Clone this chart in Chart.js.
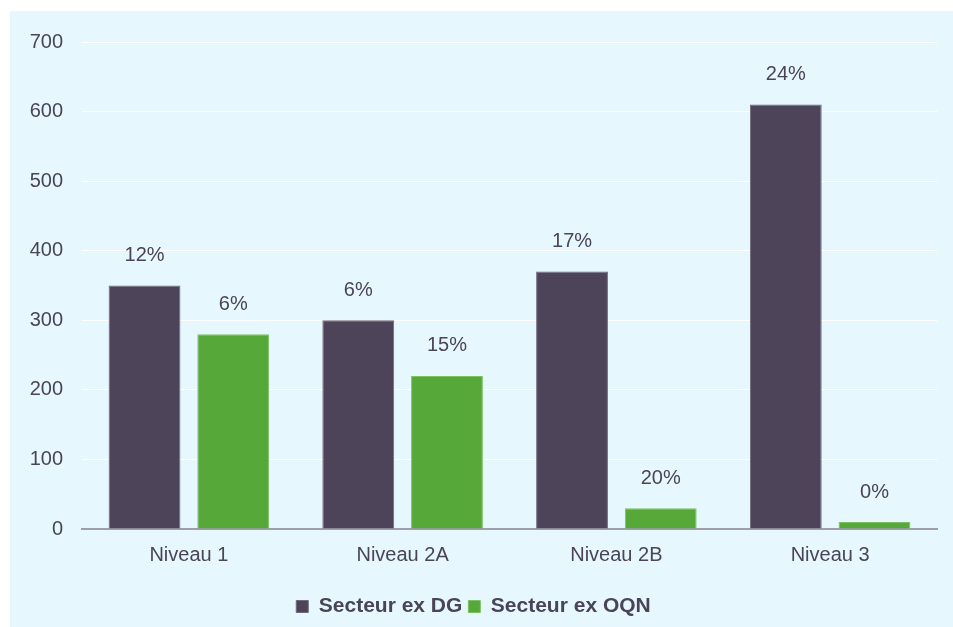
<!DOCTYPE html>
<html>
<head>
<meta charset="utf-8">
<script src="https://cdn.jsdelivr.net/npm/chart.js@4/dist/chart.umd.min.js"></script>
<style>
  html, body { margin: 0; padding: 0; background: #fff; }
  #wrap { position: absolute; left: 10px; top: 11px; width: 943px; height: 616px; background: #e6f8fd; }
</style>
</head>
<body>
<div id="wrap"><canvas id="myChart" width="943" height="616"></canvas></div>
<script>
const categories = ['Niveau 1', 'Niveau 2A', 'Niveau 2B', 'Niveau 3'];
const seriesNames = ['Secteur ex DG', 'Secteur ex OQN'];
const dgValues = [350, 300, 370, 610];
const oqnValues = [280, 220, 30, 10];
const dgLabels = ['12%', '6%', '17%', '24%'];
const oqnLabels = ['6%', '15%', '20%', '0%'];
const yTicks = [0, 100, 200, 300, 400, 500, 600, 700];

const textColor = '#4a4458';
Chart.defaults.font.family = "'Liberation Sans', Arial, sans-serif";
Chart.defaults.font.size = 20;
Chart.defaults.color = textColor;

// draws the % text above each bar
const pctLabels = {
  id: 'pctLabels',
  afterDatasetsDraw(chart) {
    const ctx = chart.ctx;
    ctx.save();
    ctx.font = "20px 'Liberation Sans', Arial, sans-serif";
    ctx.fillStyle = textColor;
    ctx.textAlign = 'center';
    ctx.textBaseline = 'middle';
    chart.data.datasets.forEach((ds, i) => {
      const meta = chart.getDatasetMeta(i);
      meta.data.forEach((bar, j) => {
        ctx.fillText(ds.pctText[j], bar.x, bar.y - 30);
      });
    });
    ctx.restore();
  }
};

const data = {
  labels: categories,
  datasets: [{
    label: seriesNames[0],
    data: dgValues,
    pctText: dgLabels,
    backgroundColor: '#4e4459',
    borderColor: '#6e6878',
    borderWidth: 1,
    categoryPercentage: 0.83,
    barPercentage: 0.81
  }, {
    label: seriesNames[1],
    data: oqnValues,
    pctText: oqnLabels,
    backgroundColor: '#56a838',
    borderColor: '#7cc064',
    borderWidth: 1,
    categoryPercentage: 0.83,
    barPercentage: 0.81
  }]
};

const config = {
  type: 'bar',
  data,
  plugins: [pctLabels],
  options: {
    responsive: false,
    animation: false,
    layout: { padding: { top: 30, right: 16, bottom: 0, left: 0 } },
    scales: {
      y: {
        min: 0,
        max: 700,
        afterFit: s => { s.width = 72; },
        afterBuildTicks: s => { s.ticks = yTicks.map(v => ({ value: v })); },
        border: { display: false },
        grid: {
          color: ctx => ctx.tick.value === 0 ? 'rgba(0,0,0,0)' : '#ffffff',
          lineWidth: 1,
          drawTicks: false
        },
        ticks: { padding: 19, color: textColor, font: { size: 20 } }
      },
      x: {
        afterFit: s => { s.height = 61; },
        border: { display: true, color: '#a09eaa', width: 2 },
        grid: { display: false, drawTicks: false },
        ticks: { padding: 14, color: textColor, font: { size: 20 } }
      }
    },
    plugins: {
      legend: {
        position: 'bottom',
        labels: {
          boxWidth: 12,
          boxHeight: 12,
          padding: 6,
          color: textColor,
          font: { size: 21, weight: 'bold' }
        }
      },
      tooltip: { enabled: false }
    }
  }
};

const myChart = new Chart(document.getElementById('myChart'), config);
</script>
</body>
</html>
